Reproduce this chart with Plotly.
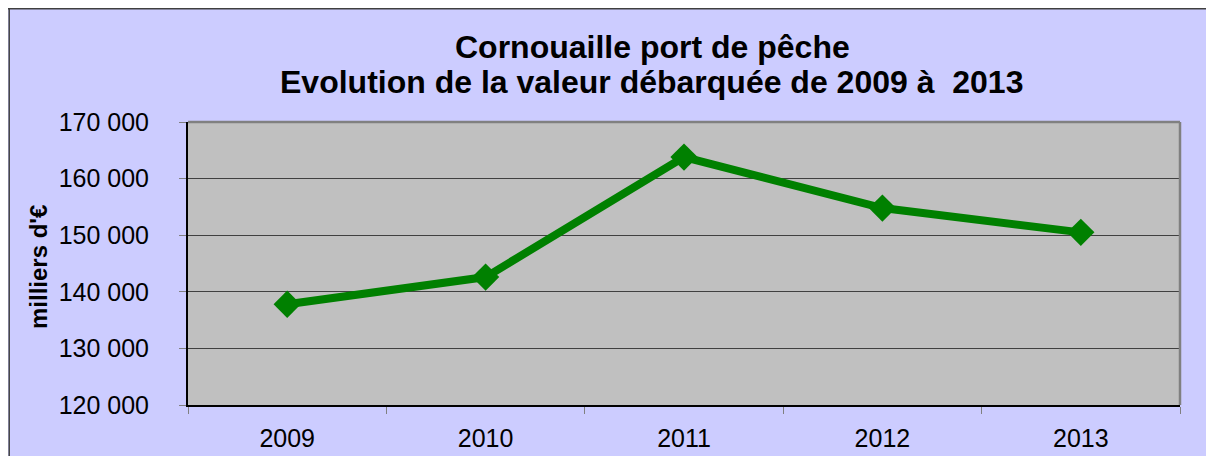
import plotly.graph_objects as go

years = ["2009", "2010", "2011", "2012", "2013"]
values = [137800, 142600, 163800, 154800, 150500]
y_ticks = [120000, 130000, 140000, 150000, 160000, 170000]
title_line1 = "Cornouaille port de pêche"
title_line2 = "Evolution de la valeur débarquée de 2009 à  2013"
y_title = "milliers d'€"

# the page body adds an 8 px offset; positions below are in figure pixels
OFF = 8
W, H = 1214, 456
L, R, T, B = 188 - OFF, 1180 - OFF, 122 - OFF, 405 - OFF

def px_x(p):
    return (p - OFF - L) / (R - L)

def px_y(p):
    return (B - (p - OFF)) / (B - T)

FONT = "Liberation Sans, Arial, sans-serif"

fig = go.Figure()
fig.add_trace(go.Scatter(
    x=years, y=values, mode="lines+markers",
    line=dict(color="#008000", width=8),
    marker=dict(symbol="diamond", size=21, color="#008000"),
    showlegend=False, hoverinfo="x+y",
))

fig.update_layout(
    width=W, height=H,
    margin=dict(l=L, r=W - R, t=T, b=H - B, autoexpand=False),
    paper_bgcolor="#CCCCFF",
    plot_bgcolor="#C0C0C0",
    separators=", ",
    font=dict(family=FONT, size=25, color="black"),
    xaxis=dict(
        type="category", tickson="boundaries", ticks="outside", ticklen=7,
        tickcolor="#808080", showline=True, linecolor="black", linewidth=2,
        showgrid=False, tickfont=dict(size=25), range=[-0.5, 4.5],
        ticklabelstandoff=10,
    ),
    yaxis=dict(
        range=[120000, 170000], tickvals=y_ticks, tickformat=",d",
        ticks="outside", ticklen=7, tickcolor="#808080",
        showline=True, linecolor="black", linewidth=2,
        showgrid=True, gridcolor="#404040", gridwidth=1,
        tickfont=dict(size=25), ticklabelstandoff=25, zeroline=False,
    ),
)

# chart frame border (top and left)
fig.add_shape(type="line", xref="paper", yref="paper",
              x0=px_x(8), x1=px_x(W + 20), y0=px_y(8.7), y1=px_y(8.7),
              line=dict(color="#404040", width=1.5), layer="above")
fig.add_shape(type="line", xref="paper", yref="paper",
              x0=px_x(9.2), x1=px_x(9.2), y0=px_y(8), y1=px_y(H + 20),
              line=dict(color="#404040", width=1.5), layer="above")
# plot area top/right border
fig.add_shape(type="line", xref="paper", yref="paper",
              x0=0, x1=1, y0=1, y1=1, line=dict(color="#808080", width=2.5))
fig.add_shape(type="line", xref="paper", yref="paper",
              x0=1, x1=1, y0=0, y1=1, line=dict(color="#808080", width=2.5))

fig.add_annotation(text="<b>" + title_line1 + "</b>", xref="paper", yref="paper",
                   x=px_x(652), y=px_y(47), showarrow=False,
                   xanchor="center", yanchor="middle",
                   font=dict(family=FONT, size=32, color="black"))
fig.add_annotation(text="<b>" + title_line2 + "</b>", xref="paper", yref="paper",
                   x=px_x(651), y=px_y(82), showarrow=False,
                   xanchor="center", yanchor="middle",
                   font=dict(family=FONT, size=32, color="black"))
fig.add_annotation(text="<b>" + y_title + "</b>", xref="paper", yref="paper",
                   x=px_x(38), y=px_y(267), showarrow=False, textangle=-90,
                   xanchor="center", yanchor="middle",
                   font=dict(family=FONT, size=24, color="black"))

fig.write_html("out.html")
